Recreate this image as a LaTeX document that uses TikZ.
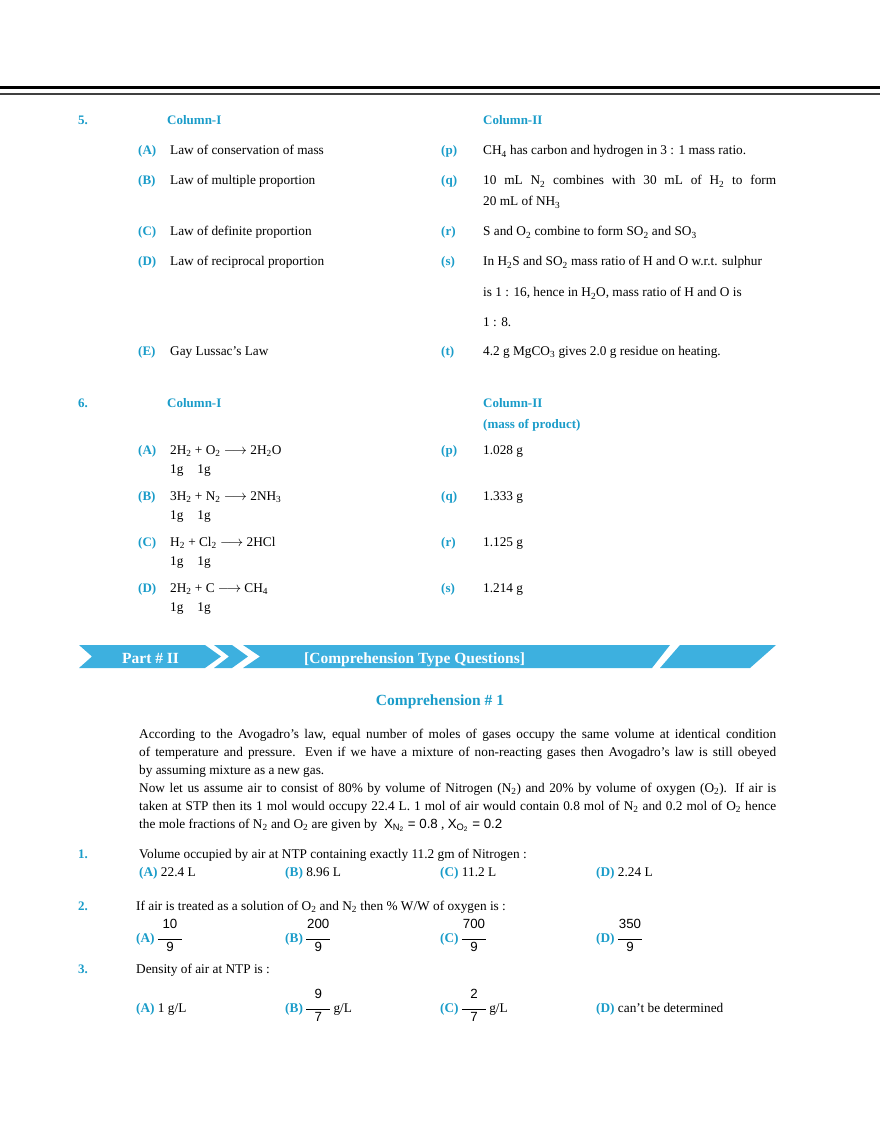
\documentclass[tikz,border=0pt]{standalone}
\usepackage{fontspec}
\setmainfont{Liberation Serif}
\newfontfamily\sfx{Liberation Sans}
\definecolor{hd}{HTML}{1A9CC9}
\definecolor{bn}{HTML}{3DB0DF}
\newcommand{\sub}[1]{\textsubscript{#1}}
\newcommand{\fr}[2]{\begin{tabular}{@{}c@{}}{\sfx #1}\\[-4pt]\rule{24pt}{0.6pt}\\[-3pt]{\sfx #2}\end{tabular}}
\begin{document}
\begin{tikzpicture}[x=1pt,y=-1pt,
 t/.style={anchor=base west,inner sep=0pt,font=\fontsize{13.3}{15}\selectfont},
 h/.style={t,text=hd,font=\fontsize{13}{15}\selectfont\bfseries},
 bl/.style={fill=bn,draw=none}]
\useasboundingbox (0,0) rectangle (880,1139);
\fill[black] (0,86.5) rectangle (880,89.5);
\fill[black!75] (0,93.5) rectangle (880,95);
% Q5
\node[h] (n5) at (78,125) {5.};
\node[h] (c1) at (167,125) {Column-I};
\node[h] (c2) at (483,125) {Column-II};
\foreach \l/\y/\txt in {A/155/Law of conservation of mass, B/185/Law of multiple proportion, C/236/Law of definite proportion, D/266/Law of reciprocal proportion, E/355/Gay Lussac's Law}{
 \node[h] (l\l) at (138,\y) {(\l)};
 \node[t] (x\l) at (170,\y) {\txt};}
\foreach \l/\y in {p/155,q/185,r/236,s/266,t/355}{\node[h] (r\l) at (441,\y) {(\l)};}
\node[t] (yp) at (483,155) {CH\sub{4} has carbon and hydrogen in 3 : 1 mass ratio.};
\node[t] (yq) at (483,185) {\makebox[293pt][s]{10 mL N\sub{2} combines with 30 mL of H\sub{2} to form}};
\node[t] (yq2) at (483,206) {20 mL of NH\sub{3}};
\node[t] (yr) at (483,236) {S and O\sub{2} combine to form SO\sub{2} and SO\sub{3}};
\node[t] (ys) at (483,266) {In H\sub{2}S and SO\sub{2} mass ratio of H and O w.r.t. sulphur};
\node[t] (ys2) at (483,297) {is 1 : 16, hence in H\sub{2}O, mass ratio of H and O is};
\node[t] (ys3) at (483,326) {1 : 8.};
\node[t] (yt) at (483,355) {4.2 g MgCO\sub{3} gives 2.0 g residue on heating.};
% Q6
\node[h] (n6) at (78,407) {6.};
\node[h] (d1) at (167,407) {Column-I};
\node[h] (d2) at (483,407) {Column-II};
\node[h] (d3) at (483,428) {(mass of product)};
\foreach \l/\y/\txt/\v/\w in {A/454/{2H\sub{2} + O\sub{2} $\longrightarrow$ 2H\sub{2}O}/p/1.028 g, B/500/{3H\sub{2} + N\sub{2} $\longrightarrow$ 2NH\sub{3}}/q/1.333 g, C/546/{H\sub{2} + Cl\sub{2} $\longrightarrow$ 2HCl}/r/1.125 g, D/592/{2H\sub{2} + C $\longrightarrow$ CH\sub{4}}/s/1.214 g}{
 \node[h] (m\l) at (138,\y) {(\l)};
 \node[t] (e\l) at (170,\y) {\txt};
 \node[t] (g\l) at (170,\y+19) {1g\hspace{14pt}1g};
 \node[h] (k\v) at (441,\y) {(\v)};
 \node[t] (w\v) at (483,\y) {\w};}
% banner
\fill[bl] (79,645)--(205,645)--(221,656.5)--(205,668)--(79,668)--(92,656.5)--cycle;
\fill[bl] (214,645)--(232,645)--(248,656.5)--(232,668)--(214,668)--(229,656.5)--cycle;
\fill[bl] (243,645)--(670,645)--(652,668)--(243,668)--(260,656.5)--cycle;
\fill[bl] (680,645)--(776,645)--(750,668)--(660,668)--cycle;
\node[t,text=white,font=\fontsize{15.5}{17}\selectfont\bfseries] (p2) at (122,663) {Part \# II};
\node[t,text=white,font=\fontsize{15.5}{17}\selectfont\bfseries] (ct) at (304,663) {[Comprehension Type Questions]};
\node[h,anchor=base,font=\fontsize{15.5}{17}\selectfont\bfseries] (cm) at (440,705) {Comprehension \# 1};
% paragraph
\foreach \y/\s in {738/{According to the Avogadro's law, equal number of moles of gases occupy the same volume at identical condition},
756/{of temperature and pressure. Even if we have a mixture of non-reacting gases then Avogadro's law is still obeyed}}
 {\node[t] at (139,\y) {\makebox[637pt][s]{\s}};}
\node[t] (pa3) at (139,774) {by assuming mixture as a new gas.};
\node[t] (pa4) at (139,792) {\makebox[637pt][s]{Now let us assume air to consist of 80\% by volume of Nitrogen (N\sub{2}) and 20\% by volume of oxygen (O\sub{2}). If air is}};
\node[t] (pa5) at (139,810) {\makebox[637pt][s]{taken at STP then its 1 mol would occupy 22.4 L. 1 mol of air would contain 0.8 mol of N\sub{2} and 0.2 mol of O\sub{2} hence}};
\node[t] (pa6) at (139,828) {the mole fractions of N\sub{2} and O\sub{2} are given by \ {\sfx X\textsubscript{N\textsubscript{2}} = 0.8} , {\sfx X\textsubscript{O\textsubscript{2}} = 0.2}};
% questions
\node[h] (q1) at (78,858) {1.};
\node[t] (q1t) at (139,858) {Volume occupied by air at NTP containing exactly 11.2 gm of Nitrogen :};
\foreach \x/\l/\v in {139/A/22.4 L,285/B/8.96 L,440/C/11.2 L,596/D/2.24 L}{\node[t] at (\x,876) {\textcolor{hd}{\bfseries(\l)} \v};}
\node[h] (q2) at (78,910) {2.};
\node[t] (q2t) at (136,910) {If air is treated as a solution of O\sub{2} and N\sub{2} then \% W/W of oxygen is :};
\foreach \x/\l/\a in {136/A/10,285/B/200,440/C/700,596/D/350}{\node[t] at (\x,942) {\textcolor{hd}{\bfseries(\l)} \raisebox{1pt}{\fr{\a}{9}}};}
\node[h] (q3) at (78,973) {3.};
\node[t] (q3t) at (136,973) {Density of air at NTP is :};
\node[t] at (136,1012) {\textcolor{hd}{\bfseries(A)} 1 g/L};
\node[t] at (285,1012) {\textcolor{hd}{\bfseries(B)} \raisebox{1pt}{\fr{9}{7}} g/L};
\node[t] at (440,1012) {\textcolor{hd}{\bfseries(C)} \raisebox{1pt}{\fr{2}{7}} g/L};
\node[t] at (596,1012) {\textcolor{hd}{\bfseries(D)} can't be determined};
\end{tikzpicture}
\end{document}
